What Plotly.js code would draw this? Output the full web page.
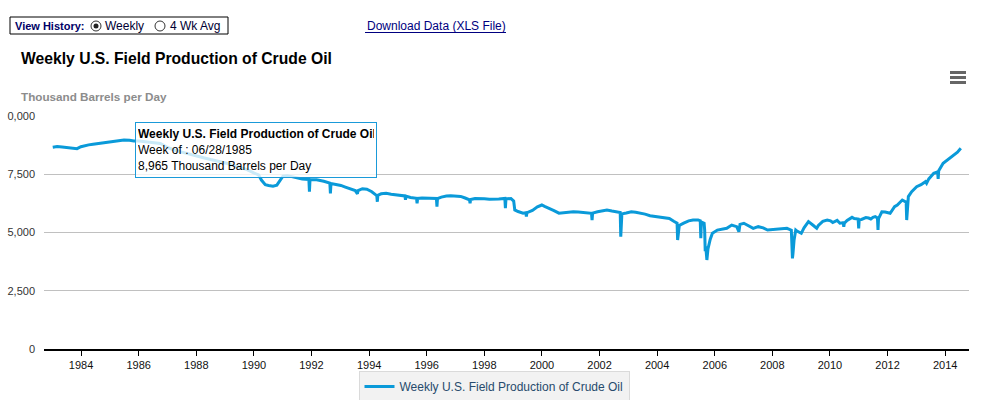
<!DOCTYPE html>
<html>
<head>
<meta charset="utf-8">
<script src="https://cdn.plot.ly/plotly-3.0.1.min.js"></script>
<style>
  html, body { margin: 0; padding: 0; background: #fff; }
  #chart { width: 983px; height: 400px; }
</style>
</head>
<body>
<div id="chart"></div>
<script>
// ---- Data ----
const weekDates = [
 '1983-01-07','1983-03-04','1983-05-06','1983-07-01','1983-09-02','1983-11-11','1983-12-30',
 '1984-02-03','1984-04-06','1984-06-01','1984-08-03','1984-10-05','1984-12-07',
 '1985-02-01','1985-04-05','1985-06-28','1985-09-06','1985-11-01',
 '1986-01-03','1986-04-04','1986-07-04','1986-10-03',
 '1987-01-02','1987-04-03','1987-07-03','1987-10-02',
 '1988-01-01','1988-04-01','1988-07-01','1988-10-07',
 '1989-01-06','1989-04-07','1989-07-07','1989-10-06',
 '1990-01-05','1990-03-02','1990-04-06','1990-05-25','1990-07-06','1990-08-31','1990-10-19','1990-12-07',
 '1991-01-04','1991-03-01','1991-05-03','1991-07-05','1991-09-06','1991-11-29','1991-12-06','1991-12-13',
 '1992-03-06','1992-06-05','1992-08-21','1992-08-28','1992-09-04','1992-11-06',
 '1993-01-08','1993-03-05','1993-05-07','1993-07-09','1993-08-06','1993-08-13','1993-10-08','1993-12-03',
 '1994-02-04','1994-04-08','1994-04-15','1994-04-22','1994-06-03','1994-08-05','1994-10-07','1994-12-02',
 '1995-02-03','1995-03-31','1995-04-07','1995-04-14','1995-06-09','1995-08-25','1995-09-01','1995-09-08','1995-11-03',
 '1996-01-05','1996-03-01','1996-05-03','1996-05-10','1996-05-17','1996-07-05','1996-09-06','1996-11-01',
 '1997-01-03','1997-03-07','1997-05-02','1997-06-27','1997-07-04','1997-07-11','1997-09-05','1997-11-07',
 '1998-01-02','1998-03-06','1998-05-01','1998-07-03','1998-09-18','1998-09-25','1998-10-02','1998-12-04',
 '1999-01-08','1999-01-22','1999-03-05','1999-05-07','1999-06-11','1999-06-18','1999-06-25','1999-09-03','1999-11-05','1999-12-31',
 '2000-02-04','2000-04-07','2000-06-02','2000-08-04','2000-10-06','2000-12-01',
 '2001-02-02','2001-04-06','2001-06-01','2001-08-03','2001-09-21','2001-09-28','2001-10-05','2001-12-07',
 '2002-02-01','2002-04-05','2002-06-07','2002-08-02','2002-09-20','2002-09-27','2002-10-04','2002-10-11','2002-12-06',
 '2003-02-07','2003-04-04','2003-06-06','2003-08-01','2003-10-03','2003-12-05',
 '2004-02-06','2004-04-02','2004-06-04','2004-07-30','2004-09-10','2004-09-17','2004-09-24','2004-10-08','2004-12-03',
 '2005-02-04','2005-04-01','2005-06-03','2005-07-01','2005-07-08','2005-07-15','2005-08-19','2005-08-26','2005-09-02','2005-09-09','2005-09-23','2005-10-07','2005-11-04','2005-12-02',
 '2006-02-03','2006-04-07','2006-06-02','2006-08-04','2006-10-06','2006-11-03','2006-11-17',
 '2007-01-05','2007-03-02','2007-05-04','2007-07-06','2007-09-07','2007-11-02',
 '2008-01-04','2008-03-07','2008-05-02','2008-07-04','2008-08-29','2008-09-05','2008-09-12','2008-09-19','2008-10-03','2008-10-24','2008-11-14',
 '2009-01-02','2009-02-06','2009-04-03','2009-06-05','2009-07-17','2009-08-07','2009-09-04','2009-10-02','2009-11-27',
 '2010-01-08','2010-02-05','2010-03-05','2010-04-02','2010-05-07','2010-06-18','2010-06-25','2010-07-02','2010-08-06','2010-09-10','2010-10-08','2010-11-05','2010-12-24','2010-12-31',
 '2011-01-07','2011-02-04','2011-03-04','2011-04-01','2011-05-06','2011-06-03','2011-07-01','2011-07-29','2011-08-26','2011-09-02','2011-09-09','2011-10-21','2011-12-02',
 '2012-02-03','2012-03-30','2012-05-04','2012-07-06','2012-08-10','2012-08-24','2012-08-31','2012-09-07','2012-09-21','2012-11-02',
 '2013-01-04','2013-03-01','2013-04-26','2013-05-10','2013-06-07','2013-08-09','2013-09-27','2013-10-04','2013-10-11','2013-12-06',
 '2014-01-31','2014-03-07','2014-04-18','2014-06-06','2014-07-18'
];
const productionKbd = [
 8660,8690,8670,8650,8640,8600,8680,
 8720,8760,8790,8820,8850,8880,
 8920,8950,8965,8960,8930,
 8930,8900,8870,8820,
 8650,8530,8450,8380,
 8290,8210,8130,8060,
 7980,7890,7810,7700,
 7550,7470,7250,7050,7020,6990,7030,7300,
 7420,7440,7400,7350,7300,7280,6750,7260,
 7260,7200,7120,6680,7100,7060,
 7020,6950,6880,6800,6660,6800,6880,6860,
 6750,6580,6320,6600,6660,6680,6640,6610,
 6590,6570,6400,6560,6500,6470,6250,6460,6480,
 6470,6460,6460,6110,6460,6520,6570,6580,
 6570,6550,6480,6400,6250,6420,6460,6470,
 6450,6430,6420,6440,6460,6040,6440,6460,
 6350,5970,5900,5830,5850,5680,5850,5950,6100,6180,
 6120,6040,5940,5830,5860,5890,
 5890,5880,5860,5830,5825,5535,5830,5890,
 5930,5965,5920,5890,5860,4820,5200,5800,5840,
 5890,5870,5830,5790,5720,5690,
 5680,5660,5600,5480,5400,4680,4900,5300,5400,
 5500,5535,5540,5500,4750,5450,5400,5100,4200,4400,3820,4300,4700,4965,
 5105,5150,5180,5320,5250,5035,5350,
 5395,5300,5180,5250,5200,5105,
 5130,5135,5150,5180,5100,4500,3890,4100,4680,5105,5050,
 4965,5200,5465,5300,5180,5300,5380,5480,5535,
 5500,5430,5465,5520,5400,5420,5250,5400,5520,5610,5650,5600,5580,5180,
 5550,5560,5610,5640,5620,5580,5650,5680,5630,5105,5600,5890,5880,
 5825,6110,6180,6395,6320,6300,5535,6000,6540,6750,
 6965,7050,7180,7110,7300,7540,7600,7300,7650,7970,
 8110,8200,8325,8450,8615
];
const seriesName = 'Weekly U.S. Field Production of Crude Oil';
const yTickValues = [0, 2500, 5000, 7500, 10000];
const yTickLabels = ['0', '2,500', '5,000', '7,500', '0,000'];
const tooltipLines = ['Week of : 06/28/1985', '8,965 Thousand Barrels per Day'];

// ---- Layout helpers (pixel -> paper) ----
const FW = 983, FH = 400;
const M = {l: 44, r: 14, t: 116, b: 51, autoexpand: false};
const W = FW - M.l - M.r, H = FH - M.t - M.b;
const PX = x => (x - M.l) / W;
const PY = y => (M.t + H - y) / H;
const FONT = 'Liberation Sans, Arial, sans-serif';

const trace = {
  type: 'scatter', mode: 'lines', name: seriesName,
  x: weekDates, y: productionKbd,
  line: {color: '#0a9ad9', width: 3},
  hoverinfo: 'skip'
};

const shapes = [
  {type: 'rect', xref: 'paper', yref: 'paper', x0: PX(10), x1: PX(228), y0: PY(34), y1: PY(17),
   line: {color: '#000', width: 1}, fillcolor: '#fff'},
  {type: 'circle', xref: 'paper', yref: 'paper', x0: PX(91), x1: PX(101), y0: PY(31), y1: PY(21),
   line: {color: '#333', width: 1}, fillcolor: '#fff'},
  {type: 'circle', xref: 'paper', yref: 'paper', x0: PX(93.5), x1: PX(98.5), y0: PY(28.5), y1: PY(23.5),
   line: {color: '#222', width: 0}, fillcolor: '#222'},
  {type: 'circle', xref: 'paper', yref: 'paper', x0: PX(155), x1: PX(165), y0: PY(31), y1: PY(21),
   line: {color: '#333', width: 1}, fillcolor: '#fff'},
  {type: 'line', xref: 'paper', yref: 'paper', x0: PX(365), x1: PX(506), y0: PY(32.5), y1: PY(32.5),
   line: {color: '#000080', width: 1}},
  {type: 'line', xref: 'paper', yref: 'paper', x0: PX(950), x1: PX(966), y0: PY(72.5), y1: PY(72.5), line: {color: '#666', width: 3}},
  {type: 'line', xref: 'paper', yref: 'paper', x0: PX(950), x1: PX(966), y0: PY(77.5), y1: PY(77.5), line: {color: '#666', width: 3}},
  {type: 'line', xref: 'paper', yref: 'paper', x0: PX(950), x1: PX(966), y0: PY(82.5), y1: PY(82.5), line: {color: '#666', width: 3}}
];

const annotations = [
  {xref: 'paper', yref: 'paper', x: PX(13), y: PY(26), xanchor: 'left', yanchor: 'middle', showarrow: false,
   text: '<b>View History:</b>', font: {family: FONT, size: 11, color: '#000066'}},
  {xref: 'paper', yref: 'paper', x: PX(103), y: PY(26), xanchor: 'left', yanchor: 'middle', showarrow: false,
   text: 'Weekly', font: {family: FONT, size: 12, color: '#000033'}},
  {xref: 'paper', yref: 'paper', x: PX(168), y: PY(26), xanchor: 'left', yanchor: 'middle', showarrow: false,
   text: '4 Wk Avg', font: {family: FONT, size: 12, color: '#000033'}},
  {xref: 'paper', yref: 'paper', x: PX(365), y: PY(26), xanchor: 'left', yanchor: 'middle', showarrow: false,
   text: 'Download Data (XLS File)', font: {family: FONT, size: 12, color: '#000080'}},
  {xref: 'paper', yref: 'paper', x: PX(19), y: PY(59), xanchor: 'left', yanchor: 'middle', showarrow: false,
   text: '<b>' + seriesName + '</b>', font: {family: FONT, size: 15.7, color: '#000'}},
  {xref: 'paper', yref: 'paper', x: PX(19), y: PY(96), xanchor: 'left', yanchor: 'middle', showarrow: false,
   text: '<b>Thousand Barrels per Day</b>', font: {family: FONT, size: 11.7, color: '#8c8c8c'}},
  {xref: 'paper', yref: 'paper', x: PX(135), y: PY(122), xanchor: 'left', yanchor: 'top', showarrow: false,
   align: 'left', valign: 'middle', width: 236, height: 50, borderpad: 2,
   bgcolor: 'rgba(255,255,255,0.78)', bordercolor: '#1a9ad9', borderwidth: 1,
   text: '<b>' + seriesName + '</b><br>' + tooltipLines.join('<br>'),
   font: {family: FONT, size: 12, color: '#000'}}
];

const layout = {
  width: FW, height: FH,
  margin: M,
  paper_bgcolor: '#fff', plot_bgcolor: '#fff',
  showlegend: true,
  legend: {x: PX(494), xanchor: 'center', y: PY(371), yanchor: 'top',
           bgcolor: '#f2f2f2', bordercolor: '#dadada', borderwidth: 1,
           font: {family: FONT, size: 12, color: '#274b6d'}},
  xaxis: {type: 'date', range: ['1982-09-18', '2014-10-30'],
          tick0: '1984-01-01', dtick: 'M24', tickformat: '%Y',
          showgrid: false, zeroline: false, showline: true, linecolor: '#000', linewidth: 1.5,
          ticks: 'outside', ticklen: 5, tickcolor: '#000', tickwidth: 1,
          tickfont: {family: FONT, size: 11, color: '#111'}, fixedrange: true},
  yaxis: {range: [0, 10000], tickvals: yTickValues, ticktext: yTickLabels,
          showgrid: true, gridcolor: '#c0c0c0', gridwidth: 1, zeroline: false, showline: false,
          ticks: '', ticklabelstandoff: 8,
          tickfont: {family: FONT, size: 11, color: '#333'}, fixedrange: true},
  shapes: shapes,
  annotations: annotations,
  hovermode: false
};

Plotly.newPlot('chart', [trace], layout, {displayModeBar: false, staticPlot: true});
</script>
</body>
</html>
